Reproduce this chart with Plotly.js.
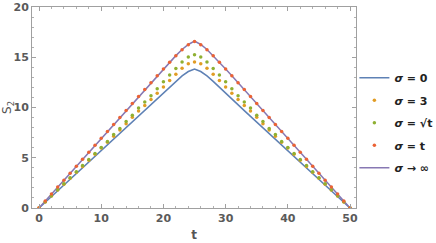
<!DOCTYPE html>
<html>
<head>
<meta charset="utf-8">
<script src="https://cdn.plot.ly/plotly-3.0.1.min.js"></script>
<style>html,body{margin:0;padding:0;background:#fff;}#chart{width:436px;height:243px;}</style>
</head>
<body>
<div id="chart"></div>
<script>
const t = [0,1,2,3,4,5,6,7,8,9,10,11,12,13,14,15,16,17,18,19,20,21,22,23,24,25,26,27,28,29,30,31,32,33,34,35,36,37,38,39,40,41,42,43,44,45,46,47,48,49,50];

const sigma0 = [0,0.57,1.14,1.71,2.28,2.85,3.42,3.99,4.56,5.13,5.7,6.27,6.84,7.41,7.98,8.55,9.12,9.69,10.26,10.83,11.4,12.0,12.6,13.15,13.58,13.83,
  13.58,13.15,12.6,12.0,11.4,10.83,10.26,9.69,9.12,8.55,7.98,7.41,6.84,6.27,5.7,5.13,4.56,3.99,3.42,2.85,2.28,1.71,1.14,0.57,0];

const sigma3 = [0,0.6,1.19,1.78,2.37,2.96,3.55,4.14,4.74,5.35,5.98,6.55,7.15,7.77,8.38,9.02,9.66,10.2,10.8,11.42,12.03,12.68,13.3,13.9,14.36,14.52,
  14.36,13.9,13.3,12.68,12.03,11.42,10.8,10.2,9.66,9.02,8.38,7.77,7.15,6.55,5.98,5.35,4.74,4.14,3.55,2.96,2.37,1.78,1.19,0.6,0];

const sigmaSqrt = [0,0.62,1.22,1.82,2.42,3.0,3.6,4.22,4.82,5.42,6.02,6.62,7.31,7.91,8.6,9.24,9.94,10.54,11.17,11.86,12.56,13.23,13.88,14.52,15.03,15.25,
  15.03,14.52,13.88,13.23,12.56,11.86,11.17,10.54,9.94,9.24,8.6,7.91,7.31,6.62,6.02,5.42,4.82,4.22,3.6,3.0,2.42,1.82,1.22,0.62,0];

const sigmaT = [0,0.69,1.39,2.08,2.77,3.47,4.16,4.85,5.55,6.24,6.93,7.62,8.32,9.01,9.7,10.4,11.09,11.78,12.47,13.16,13.84,14.51,15.15,15.75,16.25,16.56,
  16.25,15.75,15.15,14.51,13.84,13.16,12.47,11.78,11.09,10.4,9.7,9.01,8.32,7.62,6.93,6.24,5.55,4.85,4.16,3.47,2.77,2.08,1.39,0.69,0];

const sigmaInf = [0,0.69,1.39,2.08,2.77,3.47,4.16,4.85,5.55,6.24,6.93,7.62,8.32,9.01,9.7,10.4,11.09,11.78,12.47,13.16,13.84,14.51,15.16,15.77,16.27,16.6,
  16.27,15.77,15.16,14.51,13.84,13.16,12.47,11.78,11.09,10.4,9.7,9.01,8.32,7.62,6.93,6.24,5.55,4.85,4.16,3.47,2.77,2.08,1.39,0.69,0];

const names = ['<b><i>σ</i> = 0</b>', '<b><i>σ</i> = 3</b>', '<b><i>σ</i> = √t</b>', '<b><i>σ</i> = t</b>', '<b><i>σ</i> → ∞</b>'];
const xTicks = [0,10,20,30,40,50];
const yTicks = [0,5,10,15,20];

const C = {blue:'#5E81B5', orange:'#E19C24', green:'#8FB032', red:'#EB6235', purple:'#8778B3'};

const traces = [
  {x:t, y:sigma0, name:names[0], legendgroup:'a', legendrank:1, mode:'lines', line:{color:C.blue, width:1.5}},
  {x:t, y:sigmaInf, name:names[4], legendgroup:'e', legendrank:5, mode:'lines', line:{color:C.purple, width:1.5}},
  {x:t, y:sigma3, name:names[1], legendgroup:'b', legendrank:2, mode:'markers', marker:{color:C.orange, size:3.5}},
  {x:t, y:sigmaSqrt, name:names[2], legendgroup:'c', legendrank:3, mode:'markers', marker:{color:C.green, size:3.5}},
  {x:t, y:sigmaT, name:names[3], legendgroup:'d', legendrank:4, mode:'markers', marker:{color:C.red, size:3.5}}
];

const tickFont = {family:'DejaVu Sans, sans-serif', size:11, color:'#5a5a5a', weight:'bold'};
const axisCommon = {
  showline:true, linecolor:'#a0a0a0', linewidth:1, mirror:'ticks',
  ticks:'inside', ticklen:4, tickcolor:'#a0a0a0', tickwidth:1,
  showgrid:false, zeroline:false, tickfont:tickFont
};

const layout = {
  width:436, height:243,
  margin:{l:32, r:80, t:7, b:35, autoexpand:false},
  paper_bgcolor:'#fff', plot_bgcolor:'#fff',
  showlegend:true,
  legend:{x:0.995, y:0.72, xanchor:'left', yanchor:'top', traceorder:'grouped', tracegroupgap:3.5,
    font:{family:'DejaVu Sans, sans-serif', size:11, color:'#222'}, bgcolor:'rgba(0,0,0,0)'},
  xaxis:Object.assign({}, axisCommon, {range:[-1.13,50.96], tickvals:xTicks, ticktext:xTicks.map(String),
    minor:{ticks:'inside', ticklen:2, tickcolor:'#b0b0b0', dtick:2, tick0:0},
    title:{text:'t', font:{family:'DejaVu Sans, sans-serif', size:12, color:'#555', weight:'bold'}, standoff:6}}),
  yaxis:Object.assign({}, axisCommon, {range:[0,20], tickvals:yTicks, ticktext:yTicks.map(String),
    minor:{ticks:'inside', ticklen:2, tickcolor:'#b0b0b0', dtick:1, tick0:0},
    title:{text:'S<sub>2</sub>', font:{family:'DejaVu Sans, sans-serif', size:12, color:'#555'}, standoff:4}})
};

Plotly.newPlot('chart', traces, layout, {displayModeBar:false, staticPlot:true});
</script>
</body>
</html>
